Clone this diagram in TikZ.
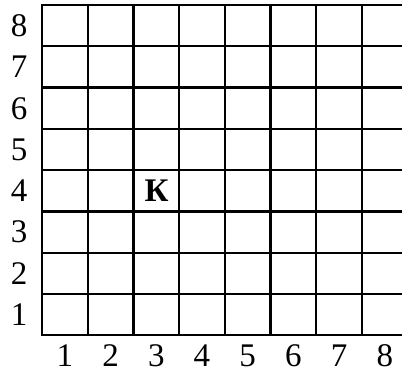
\documentclass[tikz,border=0pt]{standalone}
\usepackage{fontspec}
\setmainfont{Liberation Serif}
\begin{document}
\begin{tikzpicture}[x=1pt,y=-1pt,
  gridline/.style={line width=2.2pt,line cap=rect,black},
  lbl/.style={inner sep=0pt,font=\fontsize{33}{33}\selectfont},
  piece/.style={inner sep=0pt,font=\fontsize{33}{33}\selectfont\bfseries}]
\useasboundingbox (0,0) rectangle (402,374);
\foreach \i in {0,...,8} {
  \draw[gridline] (42,{5+41.3*\i}) -- (403,{5+41.3*\i});
}
\foreach \i in {0,...,7} {
  \draw[gridline] ({42+45.7*\i},5) -- ({42+45.7*\i},335.4);
}
\foreach \r in {1,...,8} {
  \node[lbl] (row\r) at (19,{335.4-41.3*(\r-0.5)}) {\r};
}
\foreach \c in {1,...,8} {
  \node[lbl] (col\c) at ({42+45.7*(\c-0.5)},356) {\c};
}
\node[piece] (k) at (156.5,191) {К};
\end{tikzpicture}
\end{document}
